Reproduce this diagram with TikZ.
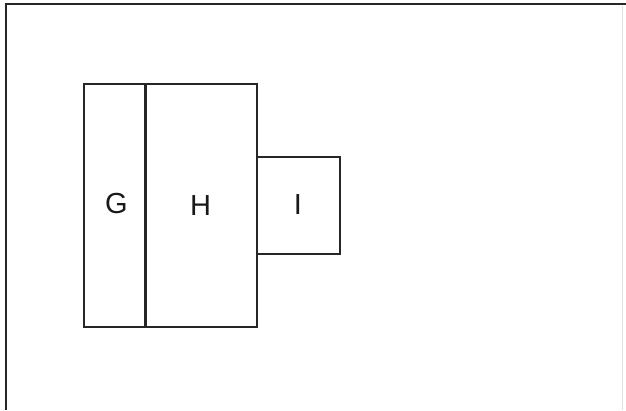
\documentclass[tikz,border=0pt]{standalone}
\usepackage{fontspec}
\setmainfont{Liberation Sans}
\begin{document}
\begin{tikzpicture}[x=1pt,y=-1pt,
  box/.style={draw=black!85, line width=2pt, inner sep=0pt},
  lbl/.style={font=\fontsize{29}{34}\selectfont, text=black!90},
  frameline/.style={draw=black!85, line width=2.4pt}]
\useasboundingbox (0,0) rectangle (626,410);
\fill[white] (0,0) rectangle (626,410);
% frame (top and left edges)
\coordinate (tr) at (626,4);
\coordinate (tl) at (6,4);
\coordinate (bl) at (6,410);
\draw[frameline] (tr) -- (tl) -- (bl);
\draw[black!12, line width=1pt] (622,6) -- (622,410);
% boxes
\node[box, minimum width=61pt, minimum height=243pt, anchor=north west] (G) at (82.5,83) {};
\node[box, minimum width=112pt, minimum height=243pt, anchor=north west] (H) at (143.5,83) {};
\node[box, minimum width=83pt, minimum height=97pt, anchor=north west] (I) at (255.5,155.5) {};
\draw[black!85, line width=2.8pt] (G.north east) -- (G.south east);
% labels
\node[lbl] (gl) at (116.5,204) {G};
\node[lbl] (hl) at (H.center) {H};
\node[lbl] (il) at (I.center) {I};
\end{tikzpicture}
\end{document}
